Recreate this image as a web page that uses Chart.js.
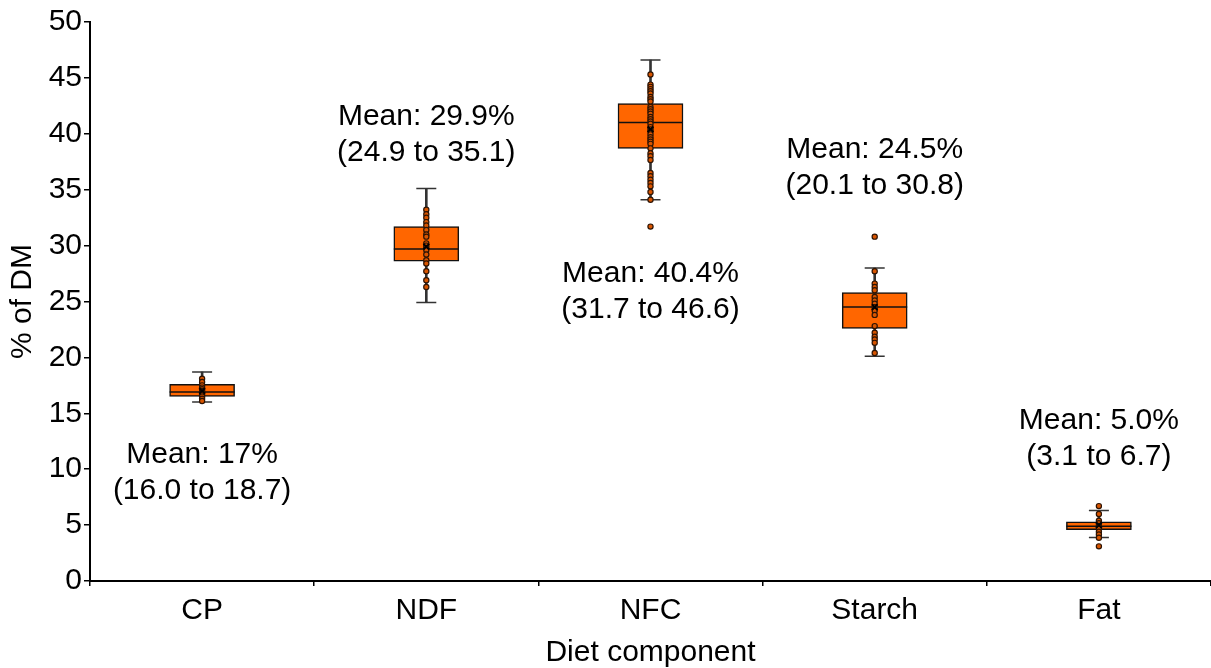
<!DOCTYPE html>
<html>
<head>
<meta charset="utf-8">
<script src="https://cdn.jsdelivr.net/npm/chart.js@4.4.1/dist/chart.umd.min.js"></script>
<style>
  html, body { margin: 0; padding: 0; background: #fff; }
  #wrap { width: 1211px; height: 668px; }
</style>
</head>
<body>
<div id="wrap"><canvas id="myChart" width="1211" height="668"></canvas></div>
<script>
const categories = ["CP", "NDF", "NFC", "Starch", "Fat"];
const whiskerLow  = [16.0, 24.9, 34.1, 20.1, 3.9];
const whiskerHigh = [18.7, 35.1, 46.6, 28.0, 6.3];
const q1 = [16.5, 28.6, 38.7, 22.6, 4.6];
const q3 = [17.6, 31.7, 42.7, 25.8, 5.3];
const medians = [16.9, 29.7, 41.0, 24.5, 4.9];
const means = [17.0, 29.9, 40.4, 24.5, 5.0];

const obsCP = [18.1, 17.8, 17.5, 17.3, 17.15, 17.0, 16.85, 16.7, 16.5, 16.3, 16.1];
const obsNDF = [33.2, 32.8, 32.5, 32.1, 31.8, 31.4, 31.0, 30.8, 30.2, 30.0, 29.8, 29.6, 29.2, 28.7, 28.4, 27.7, 26.9, 26.3];
const obsNFC = [45.3, 44.4, 44.2, 44.0, 43.8, 43.6, 43.3, 43.1, 42.9, 42.4, 42.2, 42.0, 41.8, 41.5, 41.3, 41.1, 40.9, 40.6, 40.4, 40.2, 39.95, 39.7, 39.5, 39.3, 39.1, 38.7, 38.25, 38.0, 37.65, 36.5, 36.2, 35.9, 35.6, 35.3, 34.8, 34.1, 31.7];
const obsStarch = [30.8, 27.7, 26.6, 26.3, 26.0, 25.4, 25.1, 24.8, 24.5, 24.2, 23.8, 22.8, 22.2, 21.85, 21.6, 21.3, 20.4];
const obsFat = [6.7, 6.0, 5.4, 5.16, 4.92, 4.71, 4.41, 4.17, 3.87, 3.1];
const observations = [obsCP, obsNDF, obsNFC, obsStarch, obsFat];

const meanLabels = ["Mean: 17%", "Mean: 29.9%", "Mean: 40.4%", "Mean: 24.5%", "Mean: 5.0%"];
const rangeLabels = ["(16.0 to 18.7)", "(24.9 to 35.1)", "(31.7 to 46.6)", "(20.1 to 30.8)", "(3.1 to 6.7)"];
const labelAt = [11.3, 41.5, 27.5, 38.6, 14.3];

const FONT = "'Liberation Sans', Arial, sans-serif";
Chart.defaults.font.family = FONT;
Chart.defaults.color = '#000';

const capPoints = [];
categories.forEach((c, i) => {
    capPoints.push({ x: c, y: whiskerLow[i] });
    capPoints.push({ x: c, y: whiskerHigh[i] });
});
const obsPoints = [];
observations.forEach((list, i) => {
    list.forEach(v => obsPoints.push({ x: categories[i], y: v }));
});

const textPlugin = {
    id: 'meanText',
    afterDatasetsDraw(chart) {
        const ctx = chart.ctx;
        const xs = chart.scales.x, ys = chart.scales.y;
        ctx.save();
        ctx.font = '30px ' + FONT;
        ctx.fillStyle = '#000';
        ctx.textAlign = 'center';
        ctx.textBaseline = 'middle';
        categories.forEach((c, i) => {
            const x = xs.getPixelForValue(i);
            const y = ys.getPixelForValue(labelAt[i]);
            ctx.fillText(meanLabels[i], x, y);
            ctx.fillText(rangeLabels[i], x, y + 36);
        });
        ctx.restore();
    }
};

const ctx = document.getElementById('myChart').getContext('2d');
new Chart(ctx, {
    type: 'bar',
    data: {
        labels: categories,
        datasets: [
            {
                label: 'whisker',
                data: categories.map((c, i) => [whiskerLow[i], whiskerHigh[i]]),
                backgroundColor: '#333',
                barThickness: 2,
                grouped: false,
                order: 10
            },
            {
                label: 'box',
                data: categories.map((c, i) => [q1[i], q3[i]]),
                backgroundColor: '#FF6600',
                borderColor: '#111',
                borderWidth: 1.5,
                borderSkipped: false,
                barThickness: 65,
                grouped: false,
                order: 9
            },
            {
                type: 'line',
                label: 'median',
                data: medians,
                showLine: false,
                pointStyle: 'line',
                pointRadius: 32.5,
                pointBorderWidth: 1.5,
                borderColor: '#111',
                order: 8
            },
            {
                type: 'line',
                label: 'caps',
                data: capPoints,
                showLine: false,
                pointStyle: 'line',
                pointRadius: 10,
                pointBorderWidth: 1.5,
                borderColor: '#333',
                order: 7
            },
            {
                type: 'line',
                label: 'observations',
                data: obsPoints,
                showLine: false,
                pointRadius: 2.6,
                pointBorderWidth: 1.2,
                pointBackgroundColor: '#D85500',
                pointBorderColor: '#2e1404',
                order: 2
            },
            {
                type: 'line',
                label: 'mean',
                data: means,
                showLine: false,
                pointStyle: 'crossRot',
                pointRadius: 4,
                pointBorderWidth: 2,
                borderColor: '#000',
                order: 1
            }
        ]
    },
    options: {
        responsive: false,
        animation: false,
        layout: { autoPadding: false, padding: { top: 22, right: -8, left: 0, bottom: 0 } },
        plugins: {
            legend: { display: false },
            tooltip: { enabled: false }
        },
        scales: {
            x: {
                offset: true,
                grid: { offset: true, drawOnChartArea: false, drawTicks: true, tickLength: 5, color: '#000', lineWidth: 1.5 },
                border: { display: true, color: '#000', width: 2 },
                ticks: { font: { size: 30 }, color: '#000', padding: 7 },
                title: { display: true, text: 'Diet component', font: { size: 30 }, color: '#000', padding: { top: 0, bottom: -3 } },
                afterFit(scale) {
                    scale.height = 87;
                    scale.paddingLeft = 0;
                    scale.paddingRight = 0;
                }
            },
            y: {
                min: 0,
                max: 50,
                ticks: { stepSize: 5, font: { size: 30 }, color: '#000', padding: 2 },
                grid: { drawOnChartArea: false, drawTicks: true, tickLength: 6, color: '#000', lineWidth: 1.5 },
                border: { display: true, color: '#000', width: 2 },
                title: { display: true, text: '% of DM', font: { size: 30 }, color: '#000', padding: { top: 5, bottom: 0 } },
                afterFit(scale) {
                    scale.width = 90;
                    scale.paddingTop = 0;
                    scale.paddingBottom = 0;
                }
            }
        }
    },
    plugins: [textPlugin]
});
</script>
</body>
</html>
